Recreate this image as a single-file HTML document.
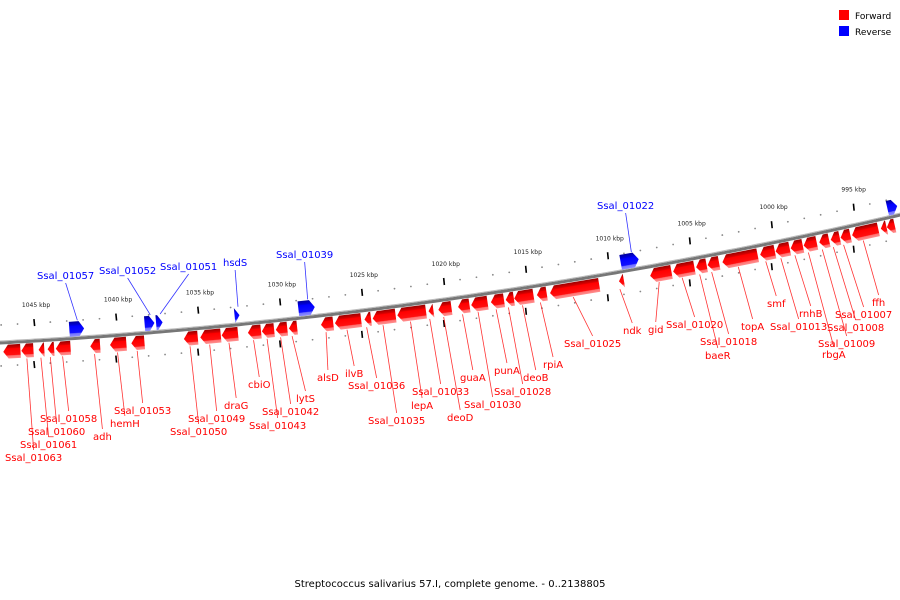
<!DOCTYPE html>
<html><head><meta charset="utf-8"><style>
html,body{margin:0;padding:0;background:#fff}
svg{display:block;font-family:"DejaVu Sans","Liberation Sans",sans-serif}
</style></head><body>
<svg id="chart" width="900" height="600" viewBox="0 0 900 600">
<defs>
<linearGradient id="gr" x1="0" y1="0" x2="0" y2="1">
<stop offset="0" stop-color="#990000"/><stop offset="0.25" stop-color="#dd0000"/><stop offset="0.3" stop-color="#ff0000"/><stop offset="0.75" stop-color="#ff1010"/><stop offset="0.8" stop-color="#ff7070"/><stop offset="1" stop-color="#ff9090"/></linearGradient>
<linearGradient id="gb" x1="0" y1="0" x2="0" y2="1">
<stop offset="0" stop-color="#000099"/><stop offset="0.25" stop-color="#0000dd"/><stop offset="0.3" stop-color="#0000ff"/><stop offset="0.75" stop-color="#1010ff"/><stop offset="0.8" stop-color="#7070ff"/><stop offset="1" stop-color="#9090ff"/></linearGradient>
</defs>
<g id="ticks"></g>
<path id="backbone" fill="none" stroke="#777" stroke-width="3"/>
<path id="backbone2" fill="none" stroke="#bbb" stroke-width="1"/>
<g id="leaders"></g>
<g id="genes"></g>
<g id="labels"></g>
<g>
<rect x="839" y="10" width="10" height="10" fill="#f00"/>
<text x="855" y="19" font-size="9" fill="#000">Forward</text>
<rect x="839" y="26" width="10" height="10" fill="#00f"/>
<text x="855" y="35" font-size="9" fill="#000">Reverse</text>
</g>
<text x="450" y="587" font-size="10" text-anchor="middle" fill="#000">Streptococcus salivarius 57.I, complete genome. - 0..2138805</text>
</svg>
<script>
const NS="http://www.w3.org/2000/svg";
// data
const tickKbp=[1045,1040,1035,1030,1025,1020,1015,1010,1005,1000,995];
const geneNames=["g0","Ssal_01063","Ssal_01061","Ssal_01060","Ssal_01058","adh","hemH","Ssal_01053","Ssal_01050","Ssal_01049","draG","cbiO","Ssal_01043","Ssal_01042","lytS","alsD","ilvB","Ssal_01036","Ssal_01035","lepA","Ssal_01033","deoD","guaA","Ssal_01030","punA","Ssal_01028","deoB","rpiA","Ssal_01025","ndk","gid","Ssal_01020","baeR","Ssal_01018","topA","smf","Ssal_01013","rnhB","rbgA","Ssal_01009","Ssal_01008","Ssal_01007","ffh","g43","g44","Ssal_01057","Ssal_01052","Ssal_01051","hsdS","Ssal_01039","Ssal_01022","g51"];
const geneStart=[1046.9,1045.8,1044.75,1044.2,1043.7,1041.6,1040.4,1039.1,1035.9,1034.9,1033.6,1032.0,1031.15,1030.3,1029.5,1027.55,1026.7,1024.9,1024.4,1022.9,1021.0,1020.4,1019.2,1018.4,1017.2,1016.3,1015.78,1014.4,1013.6,1009.4,1007.5,1006.1,1004.7,1004.0,1003.1,1000.8,999.86,998.94,998.15,997.2,996.5,995.9,995.2,993.45,993.08,1042.8,1038.2,1037.5,1032.7,1028.8,1009.1,992.8];
const geneEnd=[1045.85,1045.06,1044.4,1043.8,1042.8,1041.0,1039.4,1038.3,1035.05,1033.65,1032.6,1031.2,1030.4,1029.6,1029.0,1026.8,1025.1,1024.5,1023.0,1021.15,1020.7,1019.6,1018.5,1017.4,1016.4,1015.8,1014.6,1013.8,1010.6,1009.1,1006.2,1004.8,1004.06,1003.3,1000.95,999.9,999.0,998.2,997.35,996.6,995.95,995.3,993.6,993.1,992.6,1041.9,1037.6,1037.1,1032.4,1027.8,1008.0,992.2];
const geneStrand=["+","+","+","+","+","+","+","+","+","+","+","+","+","+","+","+","+","+","+","+","+","+","+","+","+","+","+","+","+","+","+","+","+","+","+","+","+","+","+","+","+","+","+","+","+","-","-","-","-","-","-","-"];
const labelNames=["Ssal_01063","Ssal_01061","Ssal_01060","Ssal_01058","adh","hemH","Ssal_01053","Ssal_01050","Ssal_01049","draG","cbiO","Ssal_01043","Ssal_01042","lytS","alsD","ilvB","Ssal_01036","Ssal_01035","lepA","Ssal_01033","deoD","guaA","Ssal_01030","punA","Ssal_01028","deoB","rpiA","Ssal_01025","ndk","gid","Ssal_01020","baeR","Ssal_01018","topA","smf","Ssal_01013","rnhB","rbgA","Ssal_01009","Ssal_01008","Ssal_01007","ffh","Ssal_01057","Ssal_01052","Ssal_01051","hsdS","Ssal_01039","Ssal_01022"];
const labelX=[5,20,28,40,93,110,114,170,188,224,248,249,262,296,317,345,348,368,411,412,447,460,464,494,494,523,543,564,623,648,666,705,700,741,767,770,799,822,818,827,835,872,37,99,160,223,276,597];
const labelY=[461,448,435,422,440,427,414,435,422,409,388,429,415,402,381,377,389,424,409,395,421,381,408,374,395,381,368,347,334,333,328,359,345,330,307,330,317,358,347,331,318,306,279,274,270,266,258,209];
// scales
function xOf(kbp){return (1047.07-kbp)*16.39;}
function yOf(x){return 343-0.053*x-9.9e-5*x*x;}
function angOf(x){return Math.atan(-(0.053+2*9.9e-5*x))*180/Math.PI;}
function mk(tag,attrs,parent){const e=document.createElementNS(NS,tag);for(const k in attrs)e.setAttribute(k,attrs[k]);parent.appendChild(e);return e;}
// backbone
let d="";for(let x=-5;x<=905;x+=5){d+=(x===-5?"M":"L")+x+","+yOf(x).toFixed(2)+" ";}
document.getElementById("backbone").setAttribute("d",d);
let d2="";for(let x=-5;x<=905;x+=5){d2+=(x===-5?"M":"L")+x+","+(yOf(x)-2).toFixed(2)+" ";}
document.getElementById("backbone2").setAttribute("d",d2);
// ticks
const tg=document.getElementById("ticks");
for(let k=1048;k>=991;k-=1){
 const x=xOf(k);if(x<0||x>900)continue;
 const major=(k%5===0);
 const yo=yOf(x)-18, yi=yOf(x)+23;
 if(major){
  const t=mk("line",{x1:x,y1:yo-4,x2:x+0.7,y2:yo+3,stroke:"#000","stroke-width":1.6},tg);
  
  
  const t2=mk("line",{x1:x,y1:yi-3,x2:x+0.7,y2:yi+4,stroke:"#000","stroke-width":1.6},tg);
  
  
 }else{
  const c=mk("circle",{cx:x,cy:yo,r:0.9,fill:"#888"},tg);
  
  
  const c2=mk("circle",{cx:x,cy:yi,r:0.9,fill:"#888"},tg);
  
  
 }
}
tickKbp.forEach(k=>{
 const x=xOf(k);
 const t=mk("text",{x:x-12,y:yOf(x)-34,"font-size":"6",fill:"#222"},tg);
 t.textContent=k+" kbp";
 
 
});
// genes
const gg=document.getElementById("genes");
const mids={};
for(let i=0;i<geneStart.length;i++){
 const xa=xOf(geneStart[i]), xb=xOf(geneEnd[i]);
 const xm=(xa+xb)/2, ym=yOf(xm), ang=angOf(xm);
 const L=Math.abs(xb-xa)/Math.cos(ang*Math.PI/180);
 const h=Math.min(5,L);
 const fwd=geneStrand[i]==="+";
 const y0=fwd?2:-17, y1=fwd?16:-2, ymid=(y0+y1)/2;
 let pts;
 if(fwd){pts=[[-L/2,ymid],[-L/2+h,y0],[L/2,y0],[L/2,y1],[-L/2+h,y1]];}
 else{pts=[[L/2,ymid],[L/2-h,y0],[-L/2,y0],[-L/2,y1],[L/2-h,y1]];}
 const g=mk("g",{transform:`translate(${xm.toFixed(2)},${ym.toFixed(2)}) rotate(${ang.toFixed(2)})`},gg);
 
 
 mk("polygon",{points:pts.map(p=>p[0].toFixed(2)+","+p[1].toFixed(2)).join(" "),fill:fwd?"url(#gr)":"url(#gb)"},g);
 mids[geneNames[i]]={x:xm,y:ym+(fwd?17:-18),fwd:fwd};
}
// labels
const lg=document.getElementById("labels"), ld=document.getElementById("leaders");
for(let i=0;i<labelNames.length;i++){
 const m=mids[labelNames[i]];if(!m)continue;
 const col=m.fwd?"#f00":"#00f";
 const t=mk("text",{x:labelX[i],y:labelY[i],"font-size":"10",fill:col},lg);
 t.textContent=labelNames[i];
 
 
 const w=t.getComputedTextLength?t.getComputedTextLength():labelNames[i].length*6;
 const lx=labelX[i]+w/2, ly=m.fwd?labelY[i]-11:labelY[i]+4;
 const l=mk("line",{x1:m.x,y1:m.y,x2:lx,y2:ly,stroke:col,"stroke-width":0.8,opacity:0.8},ld);
 
 
}
</script>
</body></html>
